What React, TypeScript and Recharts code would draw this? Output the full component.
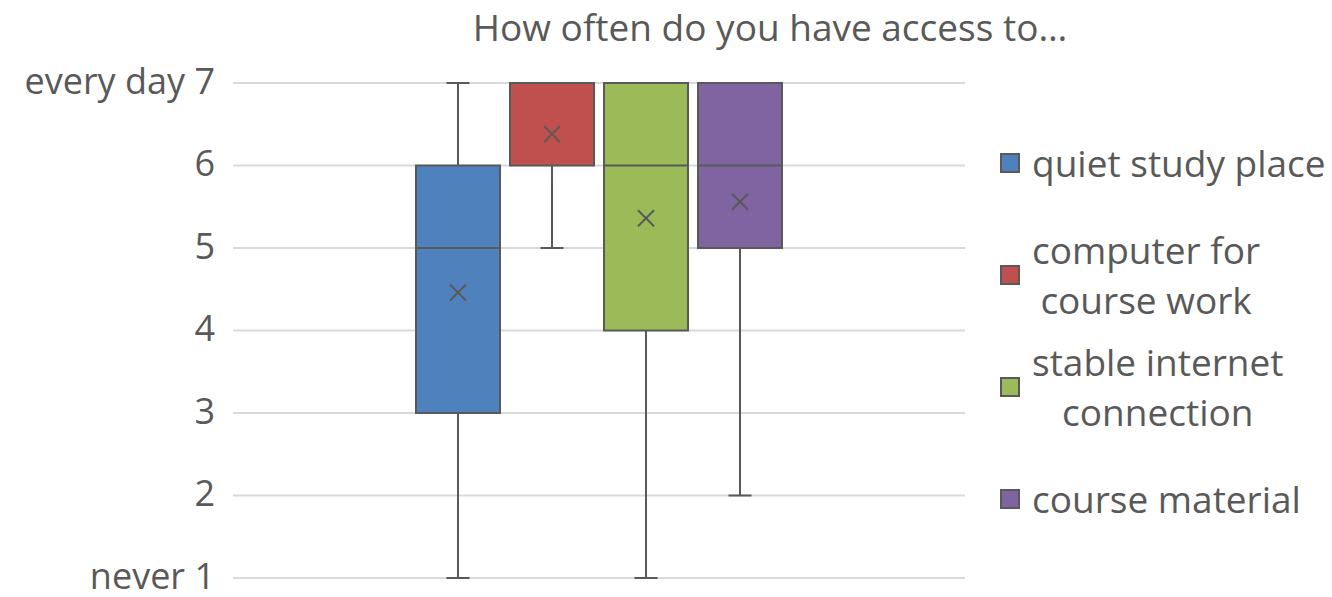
import { BarChart, Bar, XAxis, YAxis, CartesianGrid } from "recharts";

const categories = [
  "quiet study place",
  "computer for course work",
  "stable internet connection",
  "course material",
];
const legendLines = [
  ["quiet study place"],
  ["computer for", "course work"],
  ["stable internet", "connection"],
  ["course material"],
];
const colors = ["#4f81bd", "#c0504d", "#9bbb59", "#8064a2"];

// five-number summary + mean for each answer
const mins = [1, 5, 1, 2];
const q1s = [3, 6, 4, 5];
const medians = [5, 7, 6, 6];
const q3s = [6, 7, 7, 7];
const maxs = [7, 7, 7, 7];
const means = [4.46, 6.38, 5.36, 5.56];

const yTicks = [1, 2, 3, 4, 5, 6, 7];
const tickNames: Record<number, string> = { 1: "never 1", 7: "every day 7" };

const INK = "#595959";
const FONT = "'Open Sans', sans-serif";

// one row, each series holds the [q1, q3] range of its box
const row: Record<string, unknown> = { name: "access" };
categories.forEach((_, i) => {
  row[`s${i}`] = [q1s[i], q3s[i]];
});
const data = [row];

const BoxShape = (props: any) => {
  const { x, y, width, height, idx } = props;
  const top = Math.min(y, y + height);
  const bottom = Math.max(y, y + height);
  const k = (bottom - top) / (q3s[idx] - q1s[idx]);
  const yOf = (v: number) => top + (q3s[idx] - v) * k;
  const cx = x + width / 2;
  const cap = 11.5;
  const my = yOf(means[idx]);
  const m = 8;
  return (
    <g>
      <line x1={cx} x2={cx} y1={yOf(maxs[idx])} y2={top} stroke={INK} strokeWidth={2} />
      <line x1={cx} x2={cx} y1={bottom} y2={yOf(mins[idx])} stroke={INK} strokeWidth={2} />
      <line x1={cx - cap} x2={cx + cap} y1={yOf(maxs[idx])} y2={yOf(maxs[idx])} stroke={INK} strokeWidth={2} />
      <line x1={cx - cap} x2={cx + cap} y1={yOf(mins[idx])} y2={yOf(mins[idx])} stroke={INK} strokeWidth={2} />
      <rect x={x} y={top} width={width} height={bottom - top} fill={colors[idx]} stroke={INK} strokeWidth={2} />
      <line x1={x} x2={x + width} y1={yOf(medians[idx])} y2={yOf(medians[idx])} stroke={INK} strokeWidth={2} />
      <line x1={cx - m} x2={cx + m} y1={my - m} y2={my + m} stroke={INK} strokeWidth={2} />
      <line x1={cx - m} x2={cx + m} y1={my + m} y2={my - m} stroke={INK} strokeWidth={2} />
    </g>
  );
};

const BoxLegend = () => (
  <div
    style={{
      position: "absolute",
      left: 1000,
      top: 107,
      display: "flex",
      flexDirection: "column",
      fontFamily: FONT,
      color: INK,
      fontSize: 37,
    }}
  >
    {categories.map((c, i) => (
      <div key={c} style={{ height: 112, display: "flex", alignItems: "center" }}>
        <div
          style={{
            width: 16,
            height: 16,
            background: colors[i],
            border: `2px solid ${INK}`,
            marginRight: 12,
            flexShrink: 0,
          }}
        />
        <div style={{ textAlign: "center", lineHeight: "50px", whiteSpace: "nowrap" }}>
          {legendLines[i].map((l) => (
            <div key={l}>{l}</div>
          ))}
        </div>
      </div>
    ))}
  </div>
);

export default function App() {
  return (
    <div style={{ position: "fixed", left: 0, top: 0, width: 1332, height: 597, background: "#fff" }}>
      <div
        style={{
          position: "absolute",
          left: 420,
          width: 700,
          top: 1,
          textAlign: "center",
          fontFamily: FONT,
          fontSize: 37,
          color: INK,
        }}
      >
        How often do you have access to…
      </div>
      <BarChart
        width={1332}
        height={597}
        data={data}
        margin={{ top: 83, right: 367, bottom: 19, left: 0 }}
        barCategoryGap="25%"
        barGap={10}
      >
        <CartesianGrid vertical={false} stroke="#d9d9d9" strokeWidth={2} />
        <XAxis dataKey="name" hide />
        <YAxis
          domain={[1, 7]}
          ticks={yTicks}
          interval={0}
          width={233}
          axisLine={false}
          tickLine={false}
          tickMargin={12}
          tick={{ fill: INK, fontSize: 36, fontFamily: FONT, dy: -2 }}
          tickFormatter={(v: number) => tickNames[v] ?? String(v)}
        />
        {categories.map((c, i) => (
          <Bar
            key={c}
            dataKey={`s${i}`}
            name={c}
            fill={colors[i]}
            isAnimationActive={false}
            shape={(p: any) => <BoxShape {...p} idx={i} />}
          />
        ))}
      </BarChart>
      <BoxLegend />
    </div>
  );
}
